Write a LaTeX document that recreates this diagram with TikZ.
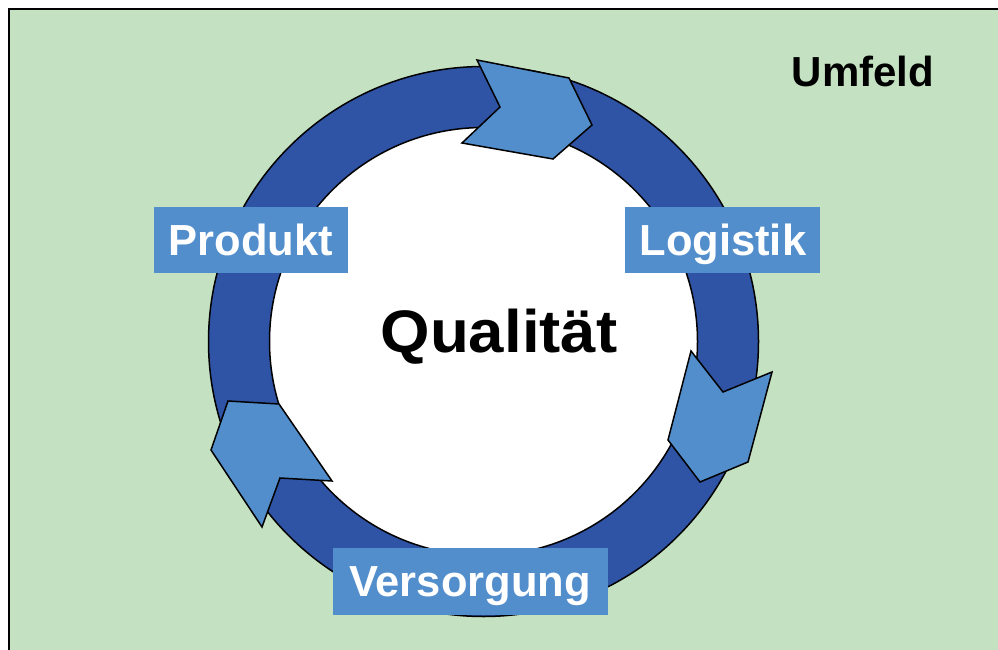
\documentclass[tikz,border=0pt]{standalone}
\usepackage{fontspec}
\setmainfont{Liberation Sans}
\definecolor{bggreen}{RGB}{196,225,193}
\definecolor{ringblue}{RGB}{47,84,166}
\definecolor{arrowblue}{RGB}{83,142,204}
\begin{document}
\begin{tikzpicture}[x=1pt,y=-1pt,
  arrowshape/.style={fill=arrowblue,draw=black,line width=1.5pt,line join=miter},
  ringline/.style={draw=black,line width=1.5pt},
  labelbox/.style={fill=arrowblue,text=white,inner sep=0pt,
    font=\bfseries\fontsize{43.5}{50}\selectfont,
    text height=31.3pt,text depth=0pt,minimum height=66pt},
  bigtext/.style={text=black,inner sep=0pt,anchor=base}]
\useasboundingbox (0,0) rectangle (998,650);
\clip (0,0) rectangle (998,650);
\fill[white] (0,0) rectangle (998,650);
% environment frame
\path[fill=bggreen,draw=black,line width=2pt] (9,9) rectangle (1010,662);
% ring
\coordinate (c) at (483.5,341.5);
\path[fill=ringblue,ringline] (c) circle[radius=275pt];
\path[fill=white,ringline] (c) circle[radius=214pt];
% arrows
\path[arrowshape] (477,60) -- (569,78) -- (592,125) -- (553,159) -- (462,143) -- (500,107) -- cycle;
\path[arrowshape] (691,351) -- (723,392) -- (772,372) -- (748,462) -- (700,482) -- (668,440) -- cycle;
\path[arrowshape] (228,401) -- (279,404) -- (332,481) -- (280,478) -- (262,527) -- (211,450) -- cycle;
% labels
\node[labelbox,minimum width=194pt] (produkt) at (251,239.5) {Produkt};
\node[labelbox,minimum width=195pt] (logistik) at (722.8,239.5) {Logistik};
\node[labelbox,minimum width=275pt,minimum height=67pt] (versorgung) at (470,581) {Versorgung};
\node[bigtext,font=\bfseries\fontsize{60}{70}\selectfont] (qual) at (499,352) {\scalebox{1.06}[1]{Qualität}};
\node[bigtext,font=\bfseries\fontsize{42}{50}\selectfont] (umfeld) at (863,86.7) {Umfeld};
\end{tikzpicture}
\end{document}
